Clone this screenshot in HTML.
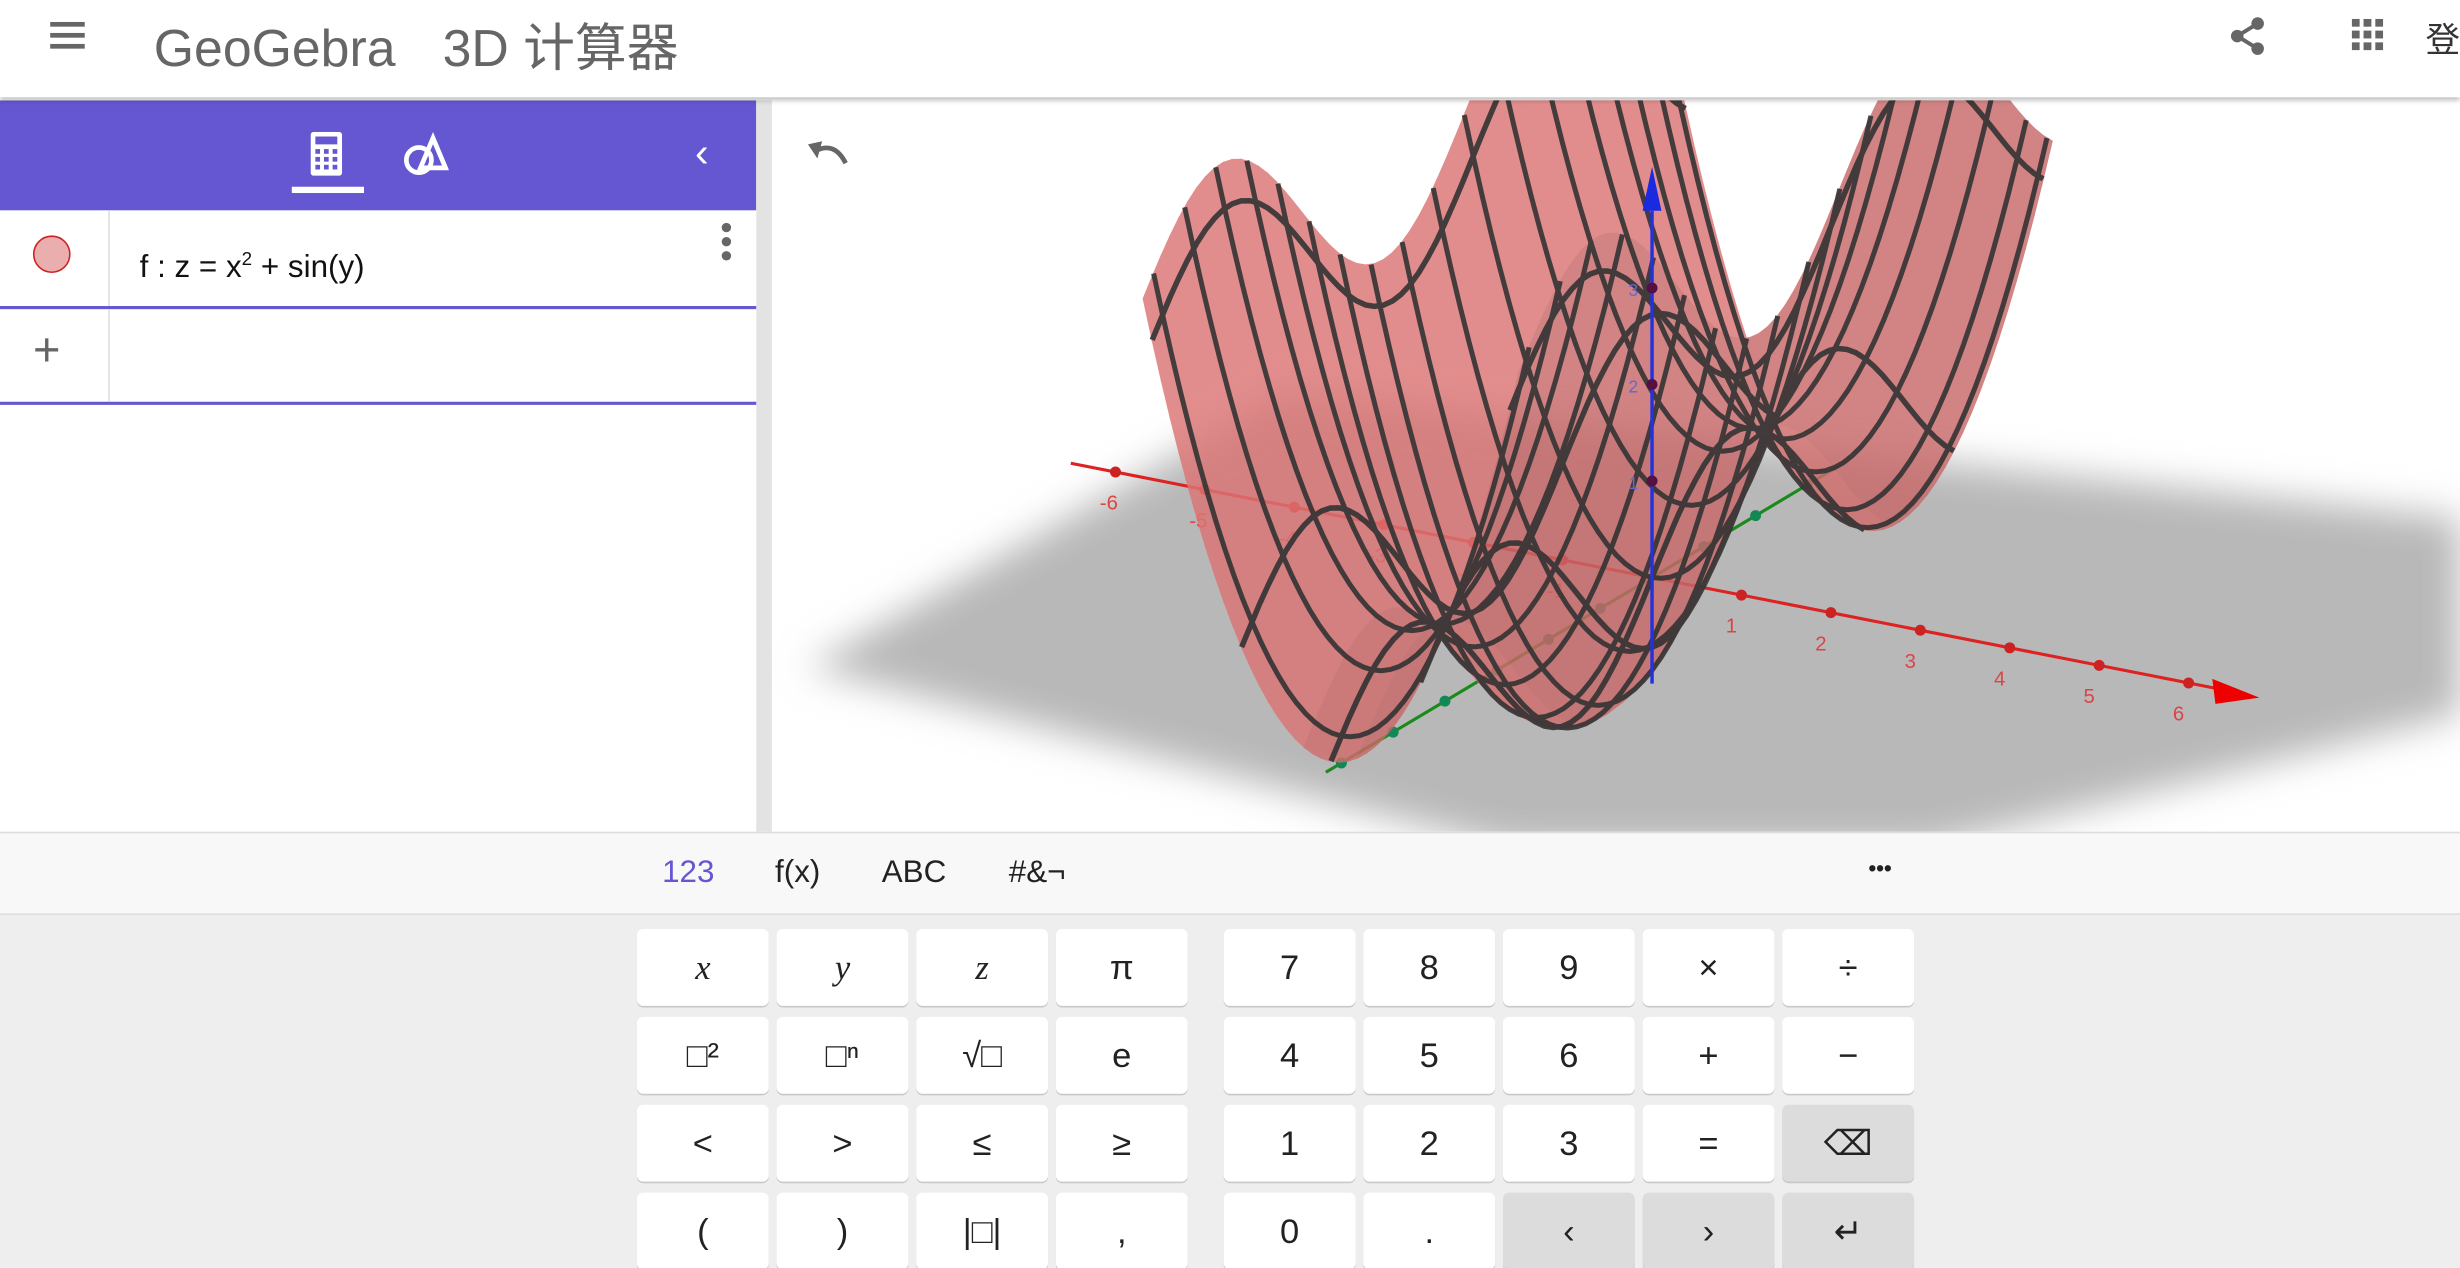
<!DOCTYPE html>
<html><head><meta charset="utf-8">
<style>
html,body{margin:0;padding:0;width:2460px;height:1268px;overflow:hidden;background:#fff;}
#wrap{position:absolute;left:0;top:0;width:1568px;height:808px;transform:scale(1.5689,1.5693);transform-origin:0 0;font-family:"Liberation Sans","Noto Sans CJK SC",sans-serif;overflow:hidden;}
.abs{position:absolute;}
.key{position:absolute;width:84px;height:49px;background:#fff;border-radius:4px;box-shadow:0 1px 0 #c8c8c8;display:flex;align-items:center;justify-content:center;font-size:22px;color:#222;}
.key.g{background:#dcdcdc;}
.tab{position:absolute;top:545px;font-size:20px;color:#222;}
</style></head><body>
<div id="wrap">
  <div class="abs" style="left:0;top:0;width:1568px;height:62px;background:#fff;box-shadow:0 2px 3px rgba(0,0,0,0.25);z-index:3">
    <div class="abs" style="left:32px;top:14px;width:22px;height:16px;">
      <div style="height:2.5px;background:#666;margin-bottom:4.5px"></div><div style="height:2.5px;background:#666;margin-bottom:4.5px"></div><div style="height:2.5px;background:#666"></div>
    </div>
    <div class="abs" style="left:98px;top:4px;font-size:33px;color:#666;white-space:nowrap">GeoGebra<span style="margin-left:30px">3D 计算器</span></div>
    <svg class="abs" style="left:1420px;top:10px" width="26" height="26" viewBox="0 0 26 26"><circle cx="19" cy="5" r="4" fill="#666"/><circle cx="6" cy="13" r="4" fill="#666"/><circle cx="19" cy="21" r="4" fill="#666"/><path d="M19 5L6 13L19 21" stroke="#666" stroke-width="2.5" fill="none"/></svg>
    <svg class="abs" style="left:1499px;top:12px" width="20" height="20"><g fill="#666"><rect x="0" y="0" width="5" height="5"/><rect x="7.5" y="0" width="5" height="5"/><rect x="15" y="0" width="5" height="5"/><rect x="0" y="7.5" width="5" height="5"/><rect x="7.5" y="7.5" width="5" height="5"/><rect x="15" y="7.5" width="5" height="5"/><rect x="0" y="15" width="5" height="5"/><rect x="7.5" y="15" width="5" height="5"/><rect x="15" y="15" width="5" height="5"/></g></svg>
    <div class="abs" style="left:1546px;top:8px;font-size:22px;color:#333;white-space:nowrap">登录</div>
  </div>
  <div class="abs" style="left:0;top:64px;width:482px;height:70px;background:#6557d2">
    <svg class="abs" style="left:198px;top:20px" width="22" height="28"><rect x="0" y="0" width="20" height="28" rx="2" fill="#fff"/><rect x="3" y="3" width="14" height="5" fill="#6557d2"/><g fill="#6557d2"><rect x="3" y="11" width="3" height="3"/><rect x="8.5" y="11" width="3" height="3"/><rect x="14" y="11" width="3" height="3"/><rect x="3" y="16" width="3" height="3"/><rect x="8.5" y="16" width="3" height="3"/><rect x="14" y="16" width="3" height="3"/><rect x="3" y="21" width="3" height="3"/><rect x="8.5" y="21" width="3" height="3"/><rect x="14" y="21" width="3" height="3"/></g></svg>
    <div class="abs" style="left:186px;top:55px;width:46px;height:4px;background:#fff"></div>
    <svg class="abs" style="left:256px;top:20px" width="30" height="30"><circle cx="11" cy="18" r="8" fill="none" stroke="#fff" stroke-width="3"/><path d="M20 4L28 23H12Z" fill="none" stroke="#fff" stroke-width="3"/></svg>
    <div class="abs" style="left:443px;top:18px;font-size:26px;color:#fff">‹</div>
  </div>
  <div class="abs" style="left:482px;top:64px;width:10px;height:466px;background:#e3e3e3"></div>
  <div class="abs" style="left:0;top:134px;width:482px;height:61px;border-bottom:2px solid #6557d2">
    <div class="abs" style="left:21px;top:16px;width:22px;height:22px;border-radius:50%;background:#ebaeae;border:1.5px solid #c22"></div>
    <div class="abs" style="left:69px;top:0;width:1px;height:61px;background:#ddd"></div>
    <div class="abs" style="left:89px;top:24px;font-size:20px;color:#111">f : z = x<sup style="font-size:12px">2</sup> + sin(y)</div>
    <div class="abs" style="left:460px;top:8px;width:6px">
      <div style="width:6px;height:6px;border-radius:3px;background:#666;margin-bottom:3px"></div><div style="width:6px;height:6px;border-radius:3px;background:#666;margin-bottom:3px"></div><div style="width:6px;height:6px;border-radius:3px;background:#666"></div></div>
  </div>
  <div class="abs" style="left:0;top:197px;width:482px;height:59px;border-bottom:2px solid #6557d2">
    <div class="abs" style="left:69px;top:0;width:1px;height:59px;background:#ddd"></div>
    <div class="abs" style="left:21px;top:10px;font-size:30px;color:#666">+</div>
  </div>
  <svg id="g3d" class="abs" style="left:492px;top:64px" width="1076" height="466" viewBox="492 64 1076 466"></svg>
  <svg class="abs" style="left:514px;top:88px" width="28" height="22"><path d="M6 8 Q18 2 25 16" stroke="#666" stroke-width="3" fill="none"/><path d="M1 4 L10 2 L7 13Z" fill="#666"/></svg>
  <div class="abs" style="left:0;top:530px;width:1568px;height:51px;background:#f8f8f8;border-top:1px solid #ddd;border-bottom:2px solid #ddd"></div>
  <div class="tab" style="left:422px;color:#6557d2">123</div>
  <div class="tab" style="left:494px">f(x)</div>
  <div class="tab" style="left:562px">ABC</div>
  <div class="tab" style="left:643px">#&amp;¬</div>
  <div class="tab" style="left:1191px;top:545px;font-weight:bold;font-size:14px">•••</div>
  <div class="abs" style="left:0;top:583px;width:1568px;height:225px;background:#eeeeee"></div>
</div>
<script>
const keyLabels=[
 ['x','y','z','π','7','8','9','×','÷'],
 ['□²','□ⁿ','√□','e','4','5','6','+','−'],
 ['<','>','≤','≥','1','2','3','=','⌫'],
 ['(',')','|□|',',','0','.','‹','›','↵']];
const colX=[406,495,584,673,780,869,958,1047,1136];
const rowY=[592,648,704,760];
const wrap=document.getElementById('wrap');
keyLabels.forEach((row,r)=>row.forEach((lab,c)=>{
  const d=document.createElement('div');
  d.className='key'+((r==2&&c==8)||(r==3&&c>=6)?' g':'');
  d.style.left=colX[c]+'px';d.style.top=rowY[r]+'px';
  if(c<3&&r==0){d.style.fontFamily='"Liberation Serif",serif';d.style.fontStyle='italic';}
  d.textContent=lab;
  
  
  wrap.appendChild(d);
}));

const xTicks=[-6,-5,-4,-3,-2,-1,1,2,3,4,5,6];
const yTicks=[-6,-5,-4,-3,-2,-1,1,2,3];
const zTicks=[1,2,3];
const xLines=[-2,-1,0,1,2];
const yLines=[-6,-5.4,-4.8,-4.2,-3.6,-3,-2.4,-1.8,-1.2,-0.6,0,0.6,1.2,1.8,2.4,3,3.6,4];
const O=[1053,368],UX=[57,11.2],UY=[33,-19.7],UZ=61.5;
const XMIN=-2.1,XMAX=2.1,YMIN=-6.2,YMAX=4.1;
function P(x,y,z){return [O[0]+UX[0]*x+UY[0]*y, O[1]+UX[1]*x+UY[1]*y-UZ*z];}
function f(x,y){return x*x+Math.sin(y);}
const NS='http://www.w3.org/2000/svg';
const svg=document.getElementById('g3d');
function el(t,a,par){const e=document.createElementNS(NS,t);for(const k in a)e.setAttribute(k,a[k]);(par||svg).appendChild(e);return e;}
svg.innerHTML='<defs><filter id="bl"><feGaussianBlur stdDeviation="12"/></filter></defs>';
let g=el('polygon',{points:'515,425 820,250 1568,330 1568,455 1230,540 960,540',fill:'#b8b8b8',filter:'url(#bl)'});


const ax1=P(-6.5,0,0),ax2=P(6.3,0,0);
let xa=el('line',{x1:ax1[0],y1:ax1[1],x2:ax2[0],y2:ax2[1],stroke:'#d22','stroke-width':2});


let ya1=P(0,-6.3,0),ya2=P(0,3.8,0);
let ya=el('line',{x1:ya1[0],y1:ya1[1],x2:ya2[0],y2:ya2[1],stroke:'#1a8a1a','stroke-width':2});


const xt=P(6.3,0,0);
el('polygon',{points:`${xt[0]+28},${xt[1]+6} ${xt[0]-2},${xt[1]-6} ${xt[0]},${xt[1]+10}`,fill:'#e00'});
xTicks.forEach(v=>{const p=P(v,0,0);const c=el('circle',{cx:p[0],cy:p[1],r:3.5,fill:'#c22'});
 
 const t=el('text',{x:p[0]-10,y:p[1]+24,fill:'#d44','font-size':13,'font-family':'Liberation Sans'});t.textContent=v;
 });
yTicks.forEach(v=>{const p=P(0,v,0);const c=el('circle',{cx:p[0],cy:p[1],r:3.5,fill:'#185'});
 });
const surf=el('g',{opacity:0.82});


const xs=[];for(let i=0;i<=42;i++)xs.push(XMIN+i*(XMAX-XMIN)/42);
const ys=[];for(let j=0;j<=60;j++)ys.push(YMIN+j*(YMAX-YMIN)/60);
for(let j=ys.length-2;j>=0;j--){
  const y0=ys[j],y1=ys[j+1];
  for(let i=0;i<xs.length-1;i++){
    const x0=xs[i],x1=xs[i+1];
    const pts=[[x0,y0],[x1,y0],[x1,y1],[x0,y1]].map(q=>P(q[0],q[1],f(q[0],q[1])));
    const xm=(x0+x1)/2;
    const shade=xm>0.3?'#c86868':(xm>-0.3?'#d06c6c':'#dc7474');
    el('polygon',{points:pts.map(p=>p.join(',')).join(' '),fill:shade,stroke:shade,'stroke-width':0.8},surf);
  }
}
const mesh=el('g',{opacity:0.9});
xLines.forEach(x=>{let d='';ys.forEach((y,k)=>{const p=P(x,y,f(x,y));d+=(k?'L':'M')+p[0].toFixed(1)+' '+p[1].toFixed(1);});
 const l=el('path',{d:d,stroke:'#333','stroke-width':3.5,fill:'none'},mesh);
 });
yLines.forEach(y=>{let d='';xs.forEach((x,k)=>{const p=P(x,y,f(x,y));d+=(k?'L':'M')+p[0].toFixed(1)+' '+p[1].toFixed(1);});
 const l=el('path',{d:d,stroke:'#333','stroke-width':3.2,fill:'none'},mesh);
 });
// z axis on top
const z0=P(0,0,-1.1),z1=P(0,0,3.8);
let za=el('line',{x1:z0[0],y1:z0[1],x2:z1[0],y2:z1[1],stroke:'#2233dd','stroke-width':2.2});


el('polygon',{points:`${z1[0]},${z1[1]-28} ${z1[0]-6},${z1[1]} ${z1[0]+6},${z1[1]}`,fill:'#1a2ae0'});
zTicks.forEach(v=>{const p=P(0,0,v);const c=el('circle',{cx:p[0],cy:p[1],r:3.5,fill:'#514'});
 
 const t=el('text',{x:p[0]-15,y:p[1]+5,fill:'#66c','font-size':11,'font-family':'Liberation Sans'});t.textContent=v;
 });
</script>
</body></html>
